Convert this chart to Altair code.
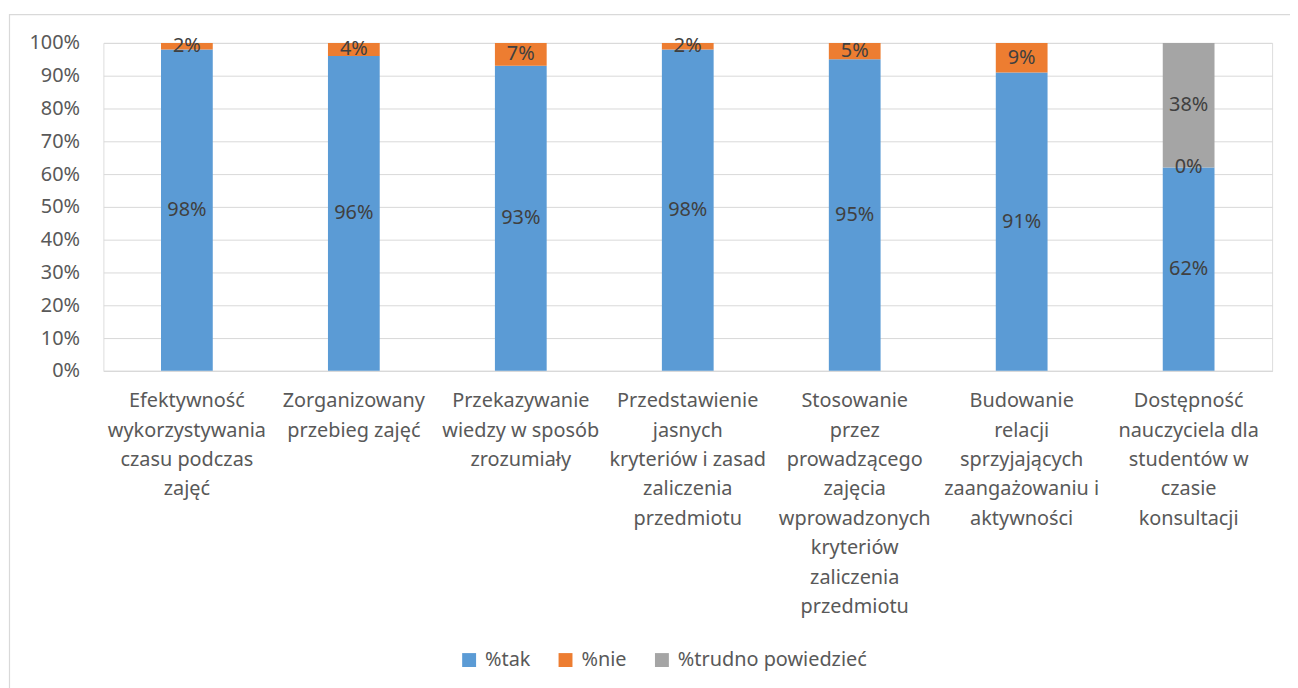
import altair as alt
import pandas as pd

categories = [
    "Efektywność\nwykorzystywania\nczasu podczas\nzajęć",
    "Zorganizowany\nprzebieg zajęć",
    "Przekazywanie\nwiedzy w sposób\nzrozumiały",
    "Przedstawienie\njasnych\nkryteriów i zasad\nzaliczenia\nprzedmiotu",
    "Stosowanie\nprzez\nprowadzącego\nzajęcia\nwprowadzonych\nkryteriów\nzaliczenia\nprzedmiotu",
    "Budowanie\nrelacji\nsprzyjających\nzaangażowaniu i\naktywności",
    "Dostępność\nnauczyciela dla\nstudentów w\nczasie\nkonsultacji",
]
series_names = ["%tak", "%nie", "%trudno powiedzieć"]
tak = [98, 96, 93, 98, 95, 91, 62]
nie = [2, 4, 7, 2, 5, 9, 0]
trudno = [None, None, None, None, None, None, 38]
y_ticks = [0, 10, 20, 30, 40, 50, 60, 70, 80, 90, 100]
colors = ["#5B9BD5", "#ED7D31", "#A5A5A5"]

rows = []
for i, c in enumerate(categories):
    for j, vals in enumerate([tak, nie, trudno]):
        if vals[i] is not None:
            rows.append({"cat": c, "series": series_names[j], "ord": j, "v": vals[i]})
df = pd.DataFrame(rows)

FONT = "Noto Sans"

base = alt.Chart(df).transform_stack(
    stack="v", groupby=["cat"], as_=["y0", "y1"], sort=[alt.SortField("ord")]
).transform_calculate(
    mid="(datum.y0 + datum.y1) / 2", lab="datum.v + '%'"
)

x_axis = alt.Axis(
    labelExpr="split(datum.label, '\\n')",
    labelAngle=0,
    labelFont=FONT,
    labelFontSize=20,
    labelColor="#595959",
    labelLineHeight=29.6,
    labelPadding=20,
    labelLimit=240,
    labelOverlap=False,
    ticks=False,
    domainColor="#D9D9D9",
    domainWidth=1,
    grid=False,
)
x_scale = alt.Scale(paddingInner=0.69, paddingOuter=0.345)

y_axis = alt.Axis(
    values=y_ticks,
    labelExpr="datum.value + '%'",
    labelFont=FONT,
    labelFontSize=20,
    labelColor="#595959",
    labelPadding=24,
    labelOverlap=False,
    labelFlush=False,
    ticks=False,
    domain=False,
    gridColor="#D9D9D9",
    gridWidth=1,
)
y_scale = alt.Scale(domain=[0, 100], nice=False)

bars = base.mark_bar().encode(
    x=alt.X("cat:N", sort=categories, title=None, scale=x_scale, axis=x_axis),
    y=alt.Y("y0:Q", title=None, scale=y_scale, axis=y_axis),
    y2="y1:Q",
    color=alt.Color(
        "series:N",
        scale=alt.Scale(domain=series_names, range=colors),
        legend=alt.Legend(
            title=None,
            orient="none",
            legendX=358,
            legendY=611,
            direction="horizontal",
            symbolType="square",
            symbolSize=196,
            symbolStrokeWidth=0,
            labelFont=FONT,
            labelFontSize=20,
            labelColor="#595959",
            labelLimit=300,
            labelOffset=6,
            columnPadding=25,
            padding=0,
        ),
    ),
)

texts = base.mark_text(font=FONT, fontSize=20, color="#404040").encode(
    x=alt.X("cat:N", sort=categories, title=None, scale=x_scale, axis=x_axis),
    y=alt.Y("mid:Q", title=None, scale=y_scale, axis=y_axis),
    text="lab:N",
)

frame = alt.Chart(alt.Data(values=[{"a": 1}])).mark_rect(
    fill=None, stroke="#D9D9D9", strokeWidth=1.2
).encode(
    x=alt.value(-94.5), x2=alt.value(1210), y=alt.value(-28.5), y2=alt.value(680)
)

chart = alt.layer(frame, bars, texts).properties(
    width=1176,
    height=330,
    padding={"left": 96, "top": 33, "right": 18, "bottom": 317},
    autosize=alt.AutoSizeParams(type="none"),
).configure_view(stroke=None).configure(background="white")

chart.save("out.html", embed_options={"renderer": "svg", "actions": False})
